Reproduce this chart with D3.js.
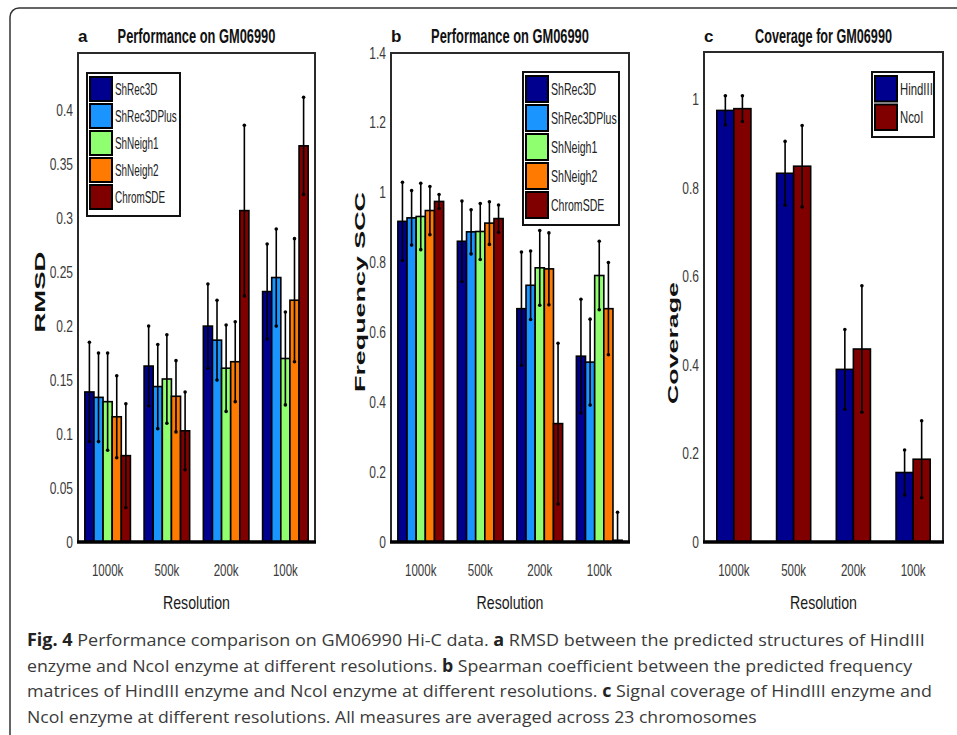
<!DOCTYPE html>
<html>
<head>
<meta charset="utf-8">
<script src="https://cdn.jsdelivr.net/npm/d3@7"></script>
<style>
body { margin: 0; background: #fff; }
svg text { font-family: 'Liberation Sans', Arial, sans-serif; }
svg text.caption { font-family: 'Open Sans', sans-serif; }
</style>
</head>
<body>
<svg id="fig"></svg>
<script>
// categories
let resolutions = ['1000k', '500k', '200k', '100k']
let methods = ['ShRec3D', 'ShRec3DPlus', 'ShNeigh1', 'ShNeigh2', 'ChromSDE']
let methodColors = ['#00008f', '#1a94ff', '#8fff70', '#ff7a00', '#800000']
let enzymes = ['HindIII', 'NcoI']
let enzymeColors = ['#00008f', '#800000']

// panel a - RMSD, one row per method, one value per resolution
let rmsdMean = [
    [0.139, 0.163, 0.200, 0.232],
    [0.134, 0.144, 0.187, 0.245],
    [0.130, 0.151, 0.161, 0.170],
    [0.116, 0.135, 0.167, 0.224],
    [0.080, 0.103, 0.307, 0.367]]
let rmsdErr = [
    [0.046, 0.037, 0.039, 0.044],
    [0.041, 0.039, 0.037, 0.045],
    [0.045, 0.041, 0.040, 0.043],
    [0.038, 0.033, 0.037, 0.057],
    [0.048, 0.036, 0.079, 0.045]]
let rmsdTicks = [0, 0.05, 0.1, 0.15, 0.2, 0.25, 0.3, 0.35, 0.4]

// panel b - frequency SCC
let sccMean = [
    [0.918, 0.861, 0.668, 0.532],
    [0.928, 0.888, 0.735, 0.515],
    [0.932, 0.889, 0.785, 0.763],
    [0.949, 0.913, 0.782, 0.668],
    [0.975, 0.926, 0.339, 0.005]]
let sccErr = [
    [0.112, 0.115, 0.162, 0.163],
    [0.078, 0.063, 0.098, 0.123],
    [0.095, 0.080, 0.107, 0.098],
    [0.069, 0.061, 0.103, 0.132],
    [0.020, 0.039, 0.230, 0.080]]
let sccTicks = [0, 0.2, 0.4, 0.6, 0.8, 1, 1.2, 1.4]

// panel c - coverage, one row per enzyme
let coverageMean = [
    [0.975, 0.833, 0.390, 0.157],
    [0.979, 0.849, 0.436, 0.187]]
let coverageErr = [
    [0.033, 0.072, 0.090, 0.051],
    [0.029, 0.092, 0.143, 0.087]]
let coverageTicks = [0, 0.2, 0.4, 0.6, 0.8, 1]

// caption, [text, bold]
let captionLines = [
    [['Fig. 4', true], [' Performance comparison on GM06990 Hi-C data. ', false], ['a', true], [' RMSD between the predicted structures of HindIII', false]],
    [['enzyme and NcoI enzyme at different resolutions. ', false], ['b', true], [' Spearman coefficient between the predicted frequency', false]],
    [['matrices of HindIII enzyme and NcoI enzyme at different resolutions. ', false], ['c', true], [' Signal coverage of HindIII enzyme and', false]],
    [['NcoI enzyme at different resolutions. All measures are averaged across 23 chromosomes', false]]]
let captionWidths = [898, 886, 905, 730]

let width = 957
let height = 735

let svg = d3.select('#fig').attr('width', width).attr('height', height)
svg.append('rect').attr('width', width).attr('height', height).attr('fill', '#fff')

// horizontal squeeze about the text anchor point (the original figure is compressed)
let scaleX = (el, k) => {
    let x = +el.getAttribute('x') || 0
    let y = +el.getAttribute('y') || 0
    el.setAttribute('transform', 'translate(' + x + ',' + y + ') scale(' + k + ',1) translate(' + (-x) + ',' + (-y) + ')')
}
let squeeze = (sel, k) => sel.each(function () { scaleX(this, k) })
let fitTo = (sel, w) => sel.each(function () { scaleX(this, w / this.getComputedTextLength()) })

// outer frame
svg.append('rect')
    .attr('x', 10).attr('y', 8)
    .attr('width', 1000).attr('height', 740)
    .attr('rx', 9)
    .attr('fill', 'none')
    .attr('stroke', '#333')
    .attr('stroke-width', 1.5)

let panels = [
    {letter: 'a', title: 'Performance on GM06990', titleW: 158, ylabel: 'RMSD', ylabelW: 81, ylabelX: 45, ylabelY: 292,
     series: methods, colors: methodColors, mean: rmsdMean, err: rmsdErr, ticks: rmsdTicks, ymax: 0.453,
     left: 78, right: 315, top: 53, bottom: 542, pad: 0.231,
     legend: {x: 87, y: 73, w: 93, step: 27, k: 0.62}},
    {letter: 'b', title: 'Performance on GM06990', titleW: 158, ylabel: 'Frequency SCC', ylabelW: 200, ylabelX: 365, ylabelY: 292,
     series: methods, colors: methodColors, mean: sccMean, err: sccErr, ticks: sccTicks, ymax: 1.4,
     left: 391, right: 629, top: 53, bottom: 542, pad: 0.231,
     legend: {x: 523, y: 72, w: 96, step: 29, k: 0.66}},
    {letter: 'c', title: 'Coverage for GM06990', titleW: 137, ylabel: 'Coverage', ylabelW: 122, ylabelX: 678, ylabelY: 343,
     series: enzymes, colors: enzymeColors, mean: coverageMean, err: coverageErr, ticks: coverageTicks, ymax: 1.107,
     left: 704, right: 943, top: 52, bottom: 542, pad: 0.429,
     legend: {x: 872, y: 72, w: 62, step: 28.5, k: 0.71}}
]

let drawPanel = (p) => {
    let g = svg.append('g')

    let xScale = d3.scaleBand()
        .domain(resolutions)
        .range([p.left, p.right])
        .paddingInner(p.pad)
        .paddingOuter(p.pad / 2)
    let xInner = d3.scaleBand()
        .domain(p.series)
        .range([0, xScale.bandwidth()])
    let yScale = d3.scaleLinear()
        .domain([0, p.ymax])
        .range([p.bottom, p.top])

    let bars = []
    p.series.forEach((s, i) => {
        resolutions.forEach((r, j) => {
            bars.push({series: s, res: r, mean: p.mean[i][j], err: p.err[i][j], color: p.colors[i]})
        })
    })

    // axes box
    g.append('rect')
        .attr('x', p.left).attr('y', p.top)
        .attr('width', p.right - p.left).attr('height', p.bottom - p.top)
        .attr('fill', '#fff')
        .attr('stroke', '#2a2a2a')
        .attr('stroke-width', 2)

    g.selectAll('rect.bar')
        .data(bars)
        .enter()
        .append('rect')
        .attr('class', 'bar')
        .attr('x', (d) => xScale(d.res) + xInner(d.series))
        .attr('width', xInner.bandwidth())
        .attr('y', (d) => yScale(d.mean))
        .attr('height', (d) => yScale(0) - yScale(d.mean))
        .attr('fill', (d) => d.color)
        .attr('stroke', '#000')
        .attr('stroke-width', 1.6)

    // error bars
    let cx = (d) => xScale(d.res) + xInner(d.series) + xInner.bandwidth() / 2
    g.selectAll('line.err')
        .data(bars)
        .enter()
        .append('line')
        .attr('class', 'err')
        .attr('x1', cx).attr('x2', cx)
        .attr('y1', (d) => yScale(Math.max(0, d.mean - d.err)))
        .attr('y2', (d) => yScale(d.mean + d.err))
        .attr('stroke', '#000')
        .attr('stroke-width', 1.6)
    let ends = []
    bars.forEach((d) => {
        ends.push({d: d, v: d.mean + d.err})
        if (d.mean - d.err > 0) ends.push({d: d, v: d.mean - d.err})
    })
    g.selectAll('circle.cap')
        .data(ends)
        .enter()
        .append('circle')
        .attr('class', 'cap')
        .attr('cx', (e) => cx(e.d))
        .attr('cy', (e) => yScale(e.v))
        .attr('r', 1.8)
        .attr('fill', '#000')

    // thick bottom line
    g.append('line')
        .attr('x1', p.left - 1).attr('x2', p.right + 1)
        .attr('y1', p.bottom).attr('y2', p.bottom)
        .attr('stroke', '#000')
        .attr('stroke-width', 3.5)

    let yAxis = d3.axisLeft(yScale)
        .tickValues(p.ticks)
        .tickSize(0)
        .tickPadding(5)
        .tickFormat((d) => String(+d.toFixed(2)))
    let ya = g.append('g')
        .attr('transform', 'translate(' + p.left + ',0)')
        .call(yAxis)
    ya.select('.domain').remove()
    ya.selectAll('text').attr('font-size', 16).attr('fill', '#3a3a3a').attr('font-family', null)
    squeeze(ya.selectAll('text'), 0.75)

    let xAxis = d3.axisBottom(xScale).tickSize(0)
    let xa = g.append('g')
        .attr('transform', 'translate(0,' + p.bottom + ')')
        .call(xAxis)
    xa.select('.domain').remove()
    xa.selectAll('text')
        .attr('y', 34).attr('dy', 0)
        .attr('font-size', 16).attr('fill', '#3a3a3a').attr('font-family', null)
    squeeze(xa.selectAll('text'), 0.72)

    let mid = (p.left + p.right) / 2

    // x label
    fitTo(g.append('text')
        .attr('x', mid).attr('y', 609)
        .attr('text-anchor', 'middle')
        .attr('font-size', 19)
        .attr('fill', '#1a1a1a')
        .text('Resolution'), 67)

    // title
    fitTo(g.append('text')
        .attr('x', mid).attr('y', 43)
        .attr('text-anchor', 'middle')
        .attr('font-size', 20)
        .attr('font-weight', 'bold')
        .attr('fill', '#111')
        .text(p.title), p.titleW)

    g.append('text')
        .attr('x', p.left).attr('y', 42)
        .attr('font-size', 17)
        .attr('font-weight', 'bold')
        .attr('fill', '#111')
        .text(p.letter)

    // y label, stretched along its length
    g.append('text')
        .attr('transform', 'translate(' + p.ylabelX + ',' + p.ylabelY + ') rotate(-90)')
        .attr('text-anchor', 'middle')
        .attr('font-size', 14)
        .attr('font-weight', 'bold')
        .attr('fill', '#111')
        .attr('textLength', p.ylabelW)
        .attr('lengthAdjust', 'spacingAndGlyphs')
        .text(p.ylabel)

    // legend
    let L = p.legend
    let n = p.series.length
    let lg = g.append('g')
    lg.append('rect')
        .attr('x', L.x).attr('y', L.y)
        .attr('width', L.w).attr('height', n * L.step + 8)
        .attr('fill', '#fff')
        .attr('stroke', '#111')
        .attr('stroke-width', 2)
    let items = lg.selectAll('g.item')
        .data(p.series)
        .enter()
        .append('g')
        .attr('class', 'item')
        .attr('transform', (d, i) => 'translate(' + (L.x + 3) + ',' + (L.y + 4 + i * L.step) + ')')
    items.append('rect')
        .attr('width', 22).attr('height', L.step - 3)
        .attr('fill', (d, i) => p.colors[i])
        .attr('stroke', '#000')
        .attr('stroke-width', 2)
    let lt = items.append('text')
        .attr('x', 25).attr('y', (L.step - 3) / 2 + 6)
        .attr('font-size', 16)
        .attr('fill', '#222')
        .text((d) => d)
    squeeze(lt, L.k)
}

panels.forEach(drawPanel)

// caption
captionLines.forEach((line, i) => {
    let t = svg.append('text')
        .attr('class', 'caption')
        .attr('x', 27)
        .attr('y', 646.5 + i * 25.5)
        .attr('font-size', 17)
        .attr('fill', '#3a3a3a')
    line.forEach((part) => {
        t.append('tspan')
            .attr('font-weight', part[1] ? 'bold' : 'normal')
            .attr('fill', part[1] ? '#222' : '#3a3a3a')
            .text(part[0])
    })
    fitTo(t, captionWidths[i])
})
</script>
</body>
</html>
